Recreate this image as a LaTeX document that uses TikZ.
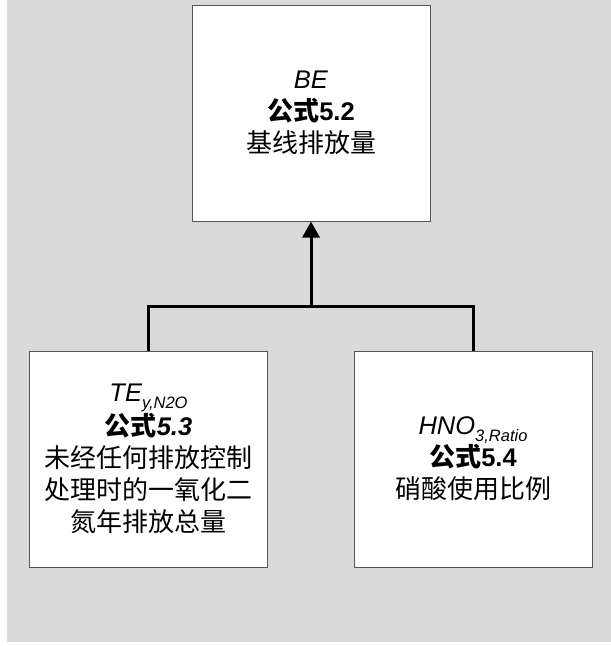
\documentclass[tikz,border=0pt]{standalone}
\usepackage{fontspec}
\setmainfont{Liberation Sans}
\newfontfamily\cjk{Noto Sans CJK SC}
\usetikzlibrary{arrows.meta}
\definecolor{bg}{HTML}{DADADA}
\definecolor{frame}{HTML}{555555}
\newcommand{\zh}[1]{{\cjk\fontsize{26}{32}\selectfont #1}}
\newcommand{\mysub}[1]{\raisebox{-7pt}{\fontsize{16.5}{16}\selectfont #1}}
\begin{document}
\begin{tikzpicture}[x=1pt,y=-1pt,
  box/.style={draw=frame,line width=1pt,fill=white,minimum width=238pt,minimum height=216pt,inner sep=0pt,align=center,font=\fontsize{25.5}{32}\selectfont},
  conn/.style={line width=3pt}]
\useasboundingbox (0,0) rectangle (611,646);
\fill[bg] (7,0) rectangle (611,642);
\node[box] (be) at (311,113) {\textit{BE}\\ \zh{\bfseries 公式}\textbf{5.2}\\ \zh{基线排放量}};
\node[box] (te) at (148.5,459) {\textit{TE\mysub{y,N2O}}\\ \zh{\bfseries 公式}\textbf{\textit{5.3}}\\ \zh{未经任何排放控制}\\ \zh{处理时的一氧化二}\\ \zh{氮年排放总量}};
\node[box] (hno) at (473,459) {\textit{HNO\mysub{3,Ratio}}\\ \zh{\bfseries 公式}\textbf{5.4}\\ \zh{硝酸使用比例}};
\coordinate (j) at (311,306);
\draw[conn] (te.north) -- (te.north |- j) -- (hno.north |- j) -- (hno.north);
\draw[conn,-{Triangle[width=17pt,length=16pt]}] (j) -- (be.south);
\end{tikzpicture}
\end{document}
